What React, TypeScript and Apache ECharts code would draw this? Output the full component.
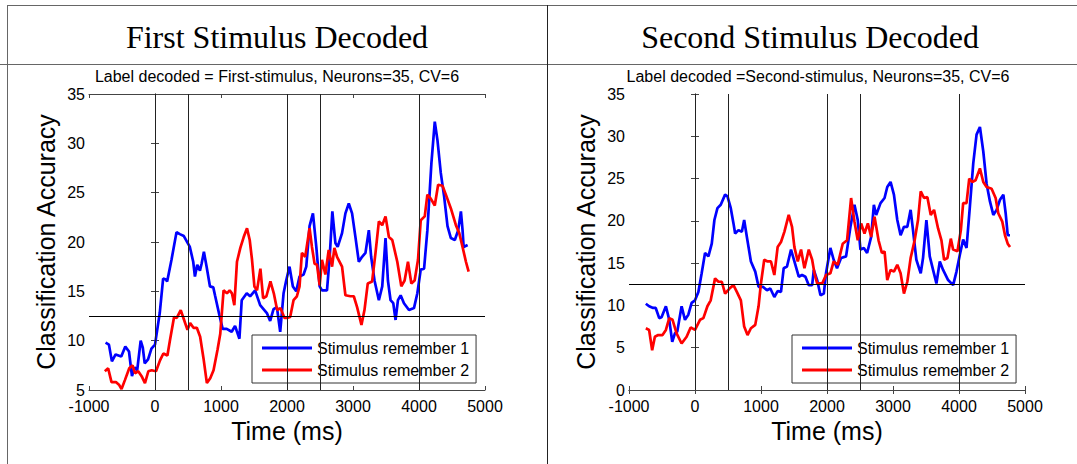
import React, { useEffect, useRef } from "react";
import * as echarts from "echarts";

const panelTitles = ["First Stimulus Decoded", "Second Stimulus Decoded"];
const subTitles = [
  "Label decoded = First-stimulus, Neurons=35, CV=6",
  "Label decoded =Second-stimulus, Neurons=35, CV=6",
];
const seriesNames = ["Stimulus remember 1", "Stimulus remember 2"];
const xAxisName = "Time (ms)";
const yAxisName = "Classification Accuracy";
const xMin = -1000;
const xMax = 5000;
const xInterval = 1000;
const leftYRange = [5, 35];
const rightYRange = [0, 35];
const yInterval = 5;
const eventTimes = [0, 500, 2000, 2500, 4000];
const chanceLevel = 12.5;

const leftBlue: [number, number][] = [
  [-749, 9.8], [-698, 9.6], [-653, 7.9], [-597, 8.6], [-511, 8.4], [-450, 9.4], [-394, 8.9],
  [-349, 6.4], [-308, 7.3], [-270, 7.0], [-217, 10.0], [-185, 9.3], [-156, 7.7], [-105, 8.1],
  [-54, 9.2], [0, 9.6], [72, 12.8], [123, 16.3], [165, 16.2], [184, 16.0], [250, 18.2],
  [326, 21.0], [376, 20.8], [437, 20.6], [528, 19.5], [579, 18.0], [605, 16.5], [640, 17.7],
  [681, 17.1], [706, 17.8], [741, 19.0], [782, 17.5], [833, 15.5], [883, 15.4], [909, 14.6],
  [975, 12.6], [1025, 11.2], [1086, 11.2], [1162, 10.9], [1213, 11.5], [1238, 11.0], [1279, 10.2],
  [1314, 14.1], [1390, 14.8], [1441, 14.5], [1517, 15.1], [1593, 13.6], [1695, 12.8], [1745, 12.0],
  [1796, 13.2], [1847, 13.4], [1897, 10.9], [1948, 14.8], [1988, 16.1], [2038, 17.5], [2089, 15.5],
  [2140, 15.0], [2190, 16.5], [2251, 16.7], [2292, 17.5], [2342, 21.6], [2393, 22.9], [2444, 19.5],
  [2495, 15.5], [2530, 15.1], [2606, 15.1], [2647, 18.5], [2687, 23.1], [2733, 19.9], [2768, 19.5],
  [2834, 20.9], [2885, 22.9], [2936, 23.9], [2986, 22.9], [3037, 20.5], [3088, 18.0], [3138, 18.5],
  [3189, 18.9], [3240, 21.2], [3275, 18.5], [3326, 16.1], [3392, 14.1], [3443, 15.5], [3493, 20.4],
  [3529, 16.1], [3569, 14.1], [3610, 13.8], [3645, 12.1], [3681, 14.1], [3722, 14.6], [3772, 13.8],
  [3848, 13.1], [3924, 13.3], [3975, 14.8], [4026, 17.2], [4077, 17.3], [4127, 21.2], [4188, 28.0],
  [4239, 32.2], [4280, 30.3], [4330, 27.0], [4381, 24.6], [4432, 21.6], [4483, 20.4], [4543, 20.2],
  [4594, 21.2], [4635, 23.1], [4660, 21.2], [4676, 19.5], [4737, 19.7],
];

const leftRed: [number, number][] = [
  [-760, 6.9], [-710, 7.2], [-659, 5.8], [-593, 5.8], [-542, 5.5], [-507, 5.1], [-456, 6.0],
  [-390, 7.2], [-340, 7.5], [-304, 6.7], [-254, 6.9], [-203, 6.4], [-152, 5.7], [-101, 6.9],
  [-51, 7.0], [15, 6.9], [76, 8.0], [127, 8.7], [188, 8.5], [228, 10.1], [289, 12.4], [330, 12.3],
  [390, 13.1], [441, 12.1], [492, 11.1], [532, 11.8], [583, 11.3], [634, 11.3], [684, 10.4],
  [735, 8.2], [786, 5.7], [837, 6.2], [887, 7.0], [948, 9.1], [989, 10.7], [1039, 15.1],
  [1090, 14.8], [1131, 15.1], [1166, 14.8], [1202, 13.6], [1242, 18.0], [1293, 19.4], [1344, 20.5],
  [1394, 21.4], [1435, 20.2], [1470, 18.2], [1506, 15.5], [1546, 15.1], [1597, 17.3], [1638, 14.3],
  [1688, 14.5], [1749, 16.0], [1800, 14.8], [1851, 13.1], [1901, 13.3], [1962, 12.3], [1998, 12.3],
  [2048, 12.4], [2099, 14.1], [2150, 14.5], [2190, 15.5], [2226, 18.9], [2276, 18.5], [2342, 21.4],
  [2378, 19.5], [2418, 17.8], [2454, 17.7], [2495, 15.6], [2530, 18.2], [2581, 16.7], [2632, 19.2],
  [2683, 17.5], [2718, 19.4], [2758, 18.5], [2834, 17.5], [2885, 14.6], [2961, 14.5], [3012, 14.5],
  [3062, 13.4], [3128, 11.6], [3174, 13.1], [3224, 15.8], [3290, 16.0], [3341, 18.9], [3392, 22.1],
  [3443, 21.7], [3493, 22.6], [3544, 20.5], [3595, 20.2], [3671, 18.0], [3732, 15.5], [3782, 16.1],
  [3833, 18.0], [3884, 15.8], [3934, 16.1], [3985, 18.2], [4026, 22.2], [4087, 22.6], [4127, 24.8],
  [4178, 24.4], [4239, 23.7], [4290, 25.8], [4356, 25.7], [4407, 24.8], [4483, 23.4], [4559, 21.7],
  [4610, 20.9], [4660, 19.5], [4711, 18.0], [4752, 17.0],
];

const rightBlue: [number, number][] = [
  [-745, 10.2], [-695, 9.9], [-634, 9.7], [-595, 9.7], [-542, 8.5], [-507, 8.6], [-441, 9.9],
  [-390, 8.3], [-345, 5.7], [-304, 6.7], [-269, 6.9], [-203, 9.9], [-152, 8.3], [-101, 8.9],
  [-51, 10.3], [0, 10.6], [51, 11.6], [101, 13.8], [152, 16.2], [203, 15.8], [254, 17.3],
  [294, 20.1], [340, 21.5], [390, 21.9], [456, 23.1], [492, 22.9], [542, 21.5], [583, 19.7],
  [608, 18.5], [659, 18.9], [710, 18.7], [745, 20.1], [786, 18.1], [847, 15.2], [913, 14.0],
  [963, 12.2], [1029, 12.2], [1090, 11.8], [1141, 12.0], [1202, 11.0], [1252, 11.7], [1303, 11.6],
  [1344, 14.4], [1394, 14.6], [1455, 16.6], [1506, 15.2], [1572, 13.4], [1622, 13.6], [1673, 13.4],
  [1724, 12.4], [1775, 12.4], [1800, 14.2], [1851, 13.0], [1901, 11.2], [1952, 11.4], [1985, 13.8],
  [2051, 16.8], [2101, 15.4], [2152, 14.4], [2213, 15.6], [2289, 15.8], [2355, 19.3], [2416, 21.9],
  [2466, 20.1], [2507, 16.6], [2558, 16.8], [2608, 16.2], [2669, 18.1], [2710, 21.9], [2745, 20.7],
  [2811, 22.1], [2872, 22.7], [2913, 24.0], [2963, 24.6], [3014, 23.1], [3065, 20.1], [3115, 18.3],
  [3166, 19.3], [3217, 19.3], [3267, 21.3], [3303, 18.9], [3354, 15.4], [3420, 13.8], [3455, 15.6],
  [3506, 20.1], [3557, 15.8], [3607, 14.2], [3658, 12.6], [3709, 15.2], [3759, 14.2], [3835, 13.0],
  [3911, 12.4], [3962, 14.0], [4013, 16.0], [4063, 17.8], [4114, 16.8], [4165, 21.7], [4216, 26.8],
  [4266, 30.2], [4317, 31.1], [4368, 28.2], [4418, 24.4], [4469, 22.3], [4520, 20.7], [4570, 21.3],
  [4621, 22.5], [4672, 23.1], [4707, 20.9], [4738, 18.3], [4773, 18.3],
];

const rightRed: [number, number][] = [
  [-745, 7.3], [-695, 7.1], [-649, 4.7], [-608, 6.3], [-558, 6.5], [-492, 6.5], [-441, 7.1],
  [-390, 8.5], [-340, 8.3], [-279, 6.7], [-203, 5.5], [-127, 6.3], [-66, 7.4], [0, 7.1],
  [76, 8.3], [127, 8.5], [188, 9.9], [238, 10.6], [304, 13.2], [355, 12.8], [406, 12.8],
  [456, 11.4], [522, 12.0], [583, 12.4], [634, 11.6], [695, 10.6], [745, 7.5], [796, 6.5],
  [847, 7.3], [913, 7.7], [963, 9.9], [999, 12.6], [1049, 15.4], [1100, 15.2], [1151, 15.2],
  [1202, 13.6], [1252, 16.9], [1303, 17.5], [1354, 18.7], [1420, 20.7], [1470, 19.3], [1506, 16.9],
  [1557, 15.2], [1607, 16.6], [1658, 14.4], [1724, 16.6], [1775, 15.4], [1810, 13.8], [1851, 12.6],
  [1927, 12.6], [1985, 13.6], [2051, 13.8], [2101, 15.2], [2162, 14.8], [2238, 17.3], [2304, 17.7],
  [2365, 22.7], [2416, 19.9], [2466, 17.7], [2517, 19.7], [2568, 18.5], [2619, 19.7], [2669, 18.1],
  [2720, 20.5], [2781, 17.7], [2832, 16.2], [2872, 16.4], [2913, 13.0], [2963, 14.2], [3014, 14.0],
  [3065, 14.8], [3115, 13.8], [3166, 11.4], [3217, 12.8], [3267, 15.6], [3328, 17.7], [3379, 20.1],
  [3420, 23.5], [3470, 22.7], [3521, 22.8], [3572, 20.7], [3622, 21.3], [3683, 19.1], [3734, 17.7],
  [3774, 15.4], [3825, 15.6], [3876, 17.9], [3911, 16.6], [3977, 16.4], [4028, 18.9], [4063, 22.1],
  [4114, 22.1], [4155, 25.0], [4200, 24.6], [4251, 24.8], [4317, 26.2], [4368, 24.6], [4418, 24.0],
  [4494, 23.8], [4555, 22.7], [4595, 20.9], [4656, 19.9], [4697, 18.3], [4738, 17.3], [4773, 16.9],
];

const SANS = '"Liberation Sans", Arial, sans-serif';
const SERIF = '"Liberation Serif", "Times New Roman", serif';
const AXIS_COLOR = "#444";

function xAxes(gridIndex: number) {
  const base = {
    type: "value" as const,
    gridIndex,
    min: xMin,
    max: xMax,
    interval: xInterval,
    splitLine: { show: false },
    axisLine: { show: true, lineStyle: { color: AXIS_COLOR, width: 1 } },
    axisTick: { show: true, inside: true, length: 4, lineStyle: { color: AXIS_COLOR } },
  };
  return [
    {
      ...base,
      position: "bottom",
      axisLabel: {
        show: true,
        margin: 8,
        fontSize: 16,
        fontFamily: SANS,
        color: "#000",
        formatter: (v: number) => String(v),
      },
      name: xAxisName,
      nameLocation: "middle",
      nameGap: 28,
      nameTextStyle: { fontSize: 25, fontFamily: SANS, color: "#000" },
    },
    { ...base, position: "top", axisLabel: { show: false } },
  ];
}

function yAxes(gridIndex: number, range: number[]) {
  const base = {
    type: "value" as const,
    gridIndex,
    min: range[0],
    max: range[1],
    interval: yInterval,
    splitLine: { show: false },
    axisLine: { show: true, lineStyle: { color: AXIS_COLOR, width: 1 } },
    axisTick: { show: true, inside: true, length: 4, lineStyle: { color: AXIS_COLOR } },
  };
  return [
    {
      ...base,
      position: "left",
      axisLabel: {
        show: true,
        margin: 4,
        fontSize: 16,
        fontFamily: SANS,
        color: "#000",
        formatter: (v: number) => String(v),
      },
      name: yAxisName,
      nameLocation: "middle",
      nameGap: 31,
      nameRotate: 90,
      nameTextStyle: { fontSize: 25, fontFamily: SANS, color: "#000" },
    },
    { ...base, position: "right", axisLabel: { show: false } },
  ];
}

function refLines(axisIndex: number) {
  return {
    type: "line" as const,
    xAxisIndex: axisIndex,
    yAxisIndex: axisIndex,
    data: [],
    silent: true,
    z: 1,
    markLine: {
      silent: true,
      symbol: "none",
      label: { show: false },
      lineStyle: { color: "#222", width: 1, type: "solid" },
      data: [
        ...eventTimes.map((t) => ({ xAxis: t })),
        { yAxis: chanceLevel, lineStyle: { color: "#000" } },
      ],
    },
  };
}

function lineSeries(name: string, data: [number, number][], color: string, axisIndex: number) {
  return {
    type: "line" as const,
    name,
    data,
    xAxisIndex: axisIndex,
    yAxisIndex: axisIndex,
    showSymbol: false,
    symbol: "none",
    color,
    lineStyle: { color, width: 2.7 },
    z: 3,
  };
}

function legendAt(left: number) {
  return {
    left,
    top: 335,
    orient: "vertical",
    data: seriesNames,
    icon: "rect",
    itemWidth: 50,
    itemHeight: 3,
    itemGap: 4,
    padding: [4, 7, 4, 10],
    borderColor: "#333",
    borderWidth: 1,
    borderRadius: 0,
    backgroundColor: "#fff",
    selectedMode: false,
    textStyle: { fontSize: 16, fontFamily: SANS, color: "#000", lineHeight: 18 },
  };
}

function hline(x1: number, x2: number, y: number, stroke: string) {
  return { type: "line", shape: { x1, y1: y, x2, y2: y }, style: { stroke, lineWidth: 1 }, silent: true };
}
function vline(x: number, y1: number, y2: number, stroke: string) {
  return { type: "line", shape: { x1: x, y1, x2: x, y2 }, style: { stroke, lineWidth: 1 }, silent: true };
}
function label(text: string, x: number, y: number, font: string) {
  return {
    type: "text",
    x,
    y,
    silent: true,
    style: {
      text,
      font,
      fill: "#000",
      align: "center",
      verticalAlign: "middle",
      textAlign: "center",
      textVerticalAlign: "middle",
    },
  };
}

export default function App() {
  const ref = useRef<HTMLDivElement>(null);
  useEffect(() => {
    if (!ref.current) return;
    const chart = echarts.init(ref.current, undefined, { renderer: "svg" });
    chart.setOption({
      animation: false,
      backgroundColor: "#fff",
      grid: [
        { left: 89, top: 94, width: 396, height: 296 },
        { left: 629, top: 94, width: 396, height: 296 },
      ],
      xAxis: [...xAxes(0), ...xAxes(1)],
      yAxis: [...yAxes(0, leftYRange), ...yAxes(1, rightYRange)],
      legend: [legendAt(252), legendAt(792)],
      series: [
        refLines(0),
        refLines(2),
        lineSeries(seriesNames[0], leftBlue, "#0000ff", 0),
        lineSeries(seriesNames[1], leftRed, "#ff0000", 0),
        lineSeries(seriesNames[0], rightBlue, "#0000ff", 2),
        lineSeries(seriesNames[1], rightRed, "#ff0000", 2),
      ],
      graphic: [
        hline(7, 1077, 5.5, "#666"),
        hline(0, 1077, 64.5, "#666"),
        vline(7.5, 5, 464, "#666"),
        vline(547.5, 5, 464, "#222"),
        label(panelTitles[0], 277, 37, `32px ${SERIF}`),
        label(panelTitles[1], 810, 37, `32px ${SERIF}`),
        label(subTitles[0], 277, 76, `16px ${SANS}`),
        label(subTitles[1], 818, 76, `16px ${SANS}`),
      ],
    });
    return () => chart.dispose();
  }, []);
  return (
    <div
      ref={ref}
      style={{ position: "absolute", left: 0, top: 0, width: 1077, height: 464, background: "#fff" }}
    />
  );
}
